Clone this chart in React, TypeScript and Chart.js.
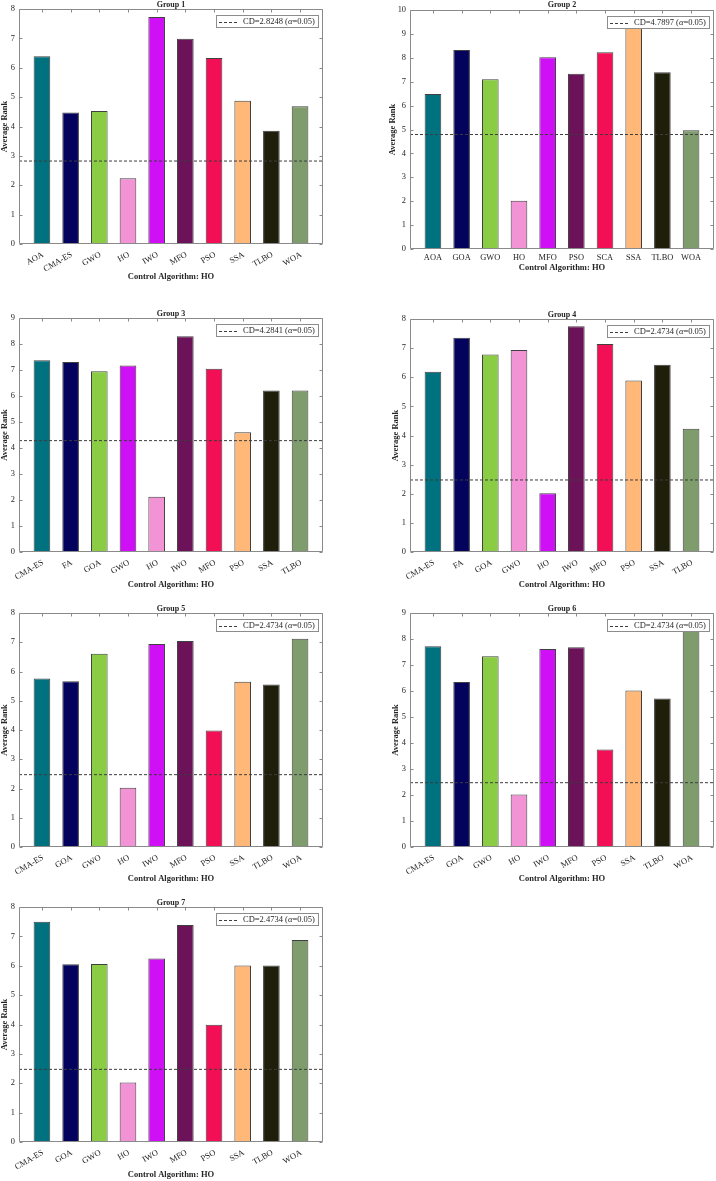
import React, { useEffect, useRef } from "react";
import { Chart, registerables } from "chart.js";

Chart.register(...registerables);

const SERIF = '"Liberation Serif", "Times New Roman", serif';

// ---------- colours ----------
const TEAL = "#00717F";
const NAVY = "#03035E";
const GREEN = "#8ACD44";
const PINK = "#F293D6";
const MAGENTA = "#CF10F6";
const PURPLE = "#6C1259";
const CRIMSON = "#F20F55";
const PEACH = "#FFB877";
const BLACKISH = "#1F1E0B";
const SAGE = "#7F9D6C";

const baseColors = [TEAL, NAVY, GREEN, PINK, MAGENTA, PURPLE, CRIMSON, PEACH, BLACKISH, SAGE];
const g3Colors = [TEAL, NAVY, GREEN, MAGENTA, PINK, PURPLE, CRIMSON, PEACH, BLACKISH, SAGE];

// ---------- data ----------
const g1Algorithms = ["AOA", "CMA-ES", "GWO", "HO", "IWO", "MFO", "PSO", "SSA", "TLBO", "WOA"];
const g1Ranks = [6.39, 4.48, 4.53, 2.24, 7.73, 6.99, 6.33, 4.88, 3.86, 4.69];
const g1CD = 2.8248;

const g2Algorithms = ["AOA", "GOA", "GWO", "HO", "MFO", "PSO", "SCA", "SSA", "TLBO", "WOA"];
const g2Ranks = [6.49, 8.33, 7.1, 2.02, 8.02, 7.33, 8.23, 9.35, 7.4, 4.97];
const g2CD = 4.7897;

const g3Algorithms = ["CMA-ES", "FA", "GOA", "GWO", "HO", "IWO", "MFO", "PSO", "SSA", "TLBO"];
const g3Ranks = [7.38, 7.31, 6.95, 7.17, 2.13, 8.3, 7.05, 4.61, 6.21, 6.21];
const g3CD = 4.2841;

const g4Algorithms = ["CMA-ES", "FA", "GOA", "GWO", "HO", "IWO", "MFO", "PSO", "SSA", "TLBO"];
const g4Ranks = [6.19, 7.36, 6.78, 6.94, 2.02, 7.75, 7.14, 5.89, 6.43, 4.23];
const g4CD = 2.4734;

const g5Algorithms = ["CMA-ES", "GOA", "GWO", "HO", "IWO", "MFO", "PSO", "SSA", "TLBO", "WOA"];
const g5Ranks = [5.76, 5.67, 6.61, 2.03, 6.94, 7.04, 3.98, 5.65, 5.56, 7.12];
const g5CD = 2.4734;

const g6Algorithms = ["CMA-ES", "GOA", "GWO", "HO", "IWO", "MFO", "PSO", "SSA", "TLBO", "WOA"];
const g6Ranks = [7.72, 6.35, 7.34, 2.02, 7.62, 7.68, 3.75, 6.02, 5.71, 8.45];
const g6CD = 2.4734;

const g7Algorithms = ["CMA-ES", "GOA", "GWO", "HO", "IWO", "MFO", "PSO", "SSA", "TLBO", "WOA"];
const g7Ranks = [7.5, 6.05, 6.06, 2.03, 6.25, 7.39, 3.99, 6.01, 6.01, 6.875];
const g7CD = 2.4734;

const yMaxes = [8, 10, 9, 8, 8, 9, 8];
const groupTitles = ["Group 1", "Group 2", "Group 3", "Group 4", "Group 5", "Group 6", "Group 7"];
const xAxisTitle = "Control Algorithm: HO";
const yAxisTitle = "Average Rank";
const ALPHA_LABEL = "0.05";

const X_MIN = 0.2;
const X_MAX = 10.8;

// ---------- layout (pixels) ----------
type Layout = {
  cx: number; cy: number; cw: number; ch: number;
  plotL: number; plotT: number; plotR: number; plotB: number;
  yTitleX: number; xTitleY: number; rot: number;
};

const layouts: Layout[] = [
  { cx: 0, cy: 0, cw: 345, ch: 290, plotL: 19, plotT: 9, plotR: 323, plotB: 244, yTitleX: 5, xTitleY: 277, rot: 30 },
  { cx: 358, cy: 0, cw: 358, ch: 290, plotL: 410, plotT: 10, plotR: 714, plotB: 249, yTitleX: 393, xTitleY: 267.5, rot: 0 },
  { cx: 0, cy: 309, cw: 345, ch: 290, plotL: 19, plotT: 317, plotR: 323, plotB: 552, yTitleX: 5, xTitleY: 585, rot: 30 },
  { cx: 358, cy: 310, cw: 358, ch: 290, plotL: 410, plotT: 318, plotR: 714, plotB: 552, yTitleX: 396, xTitleY: 585, rot: 30 },
  { cx: 0, cy: 604, cw: 345, ch: 290, plotL: 19, plotT: 613, plotR: 323, plotB: 847, yTitleX: 5, xTitleY: 879, rot: 30 },
  { cx: 358, cy: 604, cw: 358, ch: 290, plotL: 410, plotT: 613, plotR: 714, plotB: 847, yTitleX: 396, xTitleY: 879, rot: 30 },
  { cx: 0, cy: 898, cw: 345, ch: 283, plotL: 19, plotT: 907, plotR: 323, plotB: 1142, yTitleX: 5, xTitleY: 1174.5, rot: 30 },
];

type Group = { cats: string[]; ranks: number[]; cd: number; colors: string[] };
const groups: Group[] = [
  { cats: g1Algorithms, ranks: g1Ranks, cd: g1CD, colors: baseColors },
  { cats: g2Algorithms, ranks: g2Ranks, cd: g2CD, colors: baseColors },
  { cats: g3Algorithms, ranks: g3Ranks, cd: g3CD, colors: g3Colors },
  { cats: g4Algorithms, ranks: g4Ranks, cd: g4CD, colors: baseColors },
  { cats: g5Algorithms, ranks: g5Ranks, cd: g5CD, colors: baseColors },
  { cats: g6Algorithms, ranks: g6Ranks, cd: g6CD, colors: baseColors },
  { cats: g7Algorithms, ranks: g7Ranks, cd: g7CD, colors: baseColors },
];

const FRAME = "#8a8a8a";
const TEXT = "#262626";
const TICK_SIZE = 8.4;

const boxPlugin = {
  id: "matlabBox",
  afterDraw(chart: any, _args: any, opts: any) {
    const { ctx, chartArea: a, scales } = chart;
    const x = scales.x;
    const y = scales.y;
    ctx.save();
    ctx.strokeStyle = FRAME;
    ctx.lineWidth = 1;
    const L = Math.round(a.left) + 0.5;
    const T = Math.round(a.top) + 0.5;
    const R = Math.round(a.right) - 0.5;
    const B = Math.round(a.bottom) - 0.5;
    ctx.beginPath();
    ctx.rect(L, T, R - L, B - T);
    ctx.stroke();
    ctx.beginPath();
    x.ticks.forEach((t: any) => {
      const px = Math.round(x.getPixelForValue(t.value)) + 0.5;
      ctx.moveTo(px, T);
      ctx.lineTo(px, T + 3);
    });
    y.ticks.forEach((t: any) => {
      const py = Math.round(y.getPixelForValue(t.value)) + 0.5;
      ctx.moveTo(L, py);
      ctx.lineTo(L + 3, py);
      ctx.moveTo(R, py);
      ctx.lineTo(R - 3, py);
    });
    ctx.stroke();

    // rotated category labels
    const rot = Number(opts.rot) || 0;
    const cats = opts.cats as string[];
    if (rot) {
      ctx.fillStyle = TEXT;
      ctx.font = `${TICK_SIZE}px ${SERIF}`;
      ctx.textAlign = "right";
      ctx.textBaseline = "middle";
      x.ticks.forEach((t: any) => {
        const v = Math.round(t.value);
        const px = x.getPixelForValue(v);
        ctx.save();
        ctx.translate(px + 1, a.bottom + 10);
        ctx.rotate((-rot * Math.PI) / 180);
        ctx.fillText(cats[v - 1], 0, 0);
        ctx.restore();
      });
    }

    // legend box
    const cdText = opts.cdText as string;
    const fsz = 8.5;
    const pre = `CD=${cdText} (`;
    const post = `=${ALPHA_LABEL})`;
    ctx.font = `${fsz}px ${SERIF}`;
    const wPre = ctx.measureText(pre).width;
    const wPost = ctx.measureText(post).width;
    ctx.font = `italic ${fsz}px ${SERIF}`;
    const wA = ctx.measureText("α").width;
    const textW = wPre + wA + wPost;
    const boxW = 2.5 + 19 + 5 + textW + 4;
    const boxH = 12;
    const boxR = Math.round(a.right - 5) + 0.5;
    const boxT = Math.round(a.top + 5.5) + 0.5;
    const boxL = Math.round(boxR - boxW) + 0.5;
    ctx.fillStyle = "#ffffff";
    ctx.fillRect(boxL, boxT, boxR - boxL, boxH);
    ctx.strokeStyle = "#8c8c8c";
    ctx.strokeRect(boxL, boxT, boxR - boxL, boxH);
    const midY = boxT + boxH / 2;
    ctx.strokeStyle = "#3c3c3c";
    ctx.setLineDash([3, 2]);
    ctx.beginPath();
    ctx.moveTo(boxL + 2.5, Math.round(midY) + 0.5);
    ctx.lineTo(boxL + 21.5, Math.round(midY) + 0.5);
    ctx.stroke();
    ctx.setLineDash([]);
    ctx.fillStyle = TEXT;
    ctx.textBaseline = "middle";
    ctx.textAlign = "left";
    let tx = boxL + 26.5;
    ctx.font = `${fsz}px ${SERIF}`;
    ctx.fillText(pre, tx, midY + 0.5);
    tx += wPre;
    ctx.font = `italic ${fsz}px ${SERIF}`;
    ctx.fillText("α", tx, midY + 0.5);
    tx += wA;
    ctx.font = `${fsz}px ${SERIF}`;
    ctx.fillText(post, tx, midY + 0.5);
    ctx.restore();
  },
};

function Panel({ idx }: { idx: number }) {
  const ref = useRef<HTMLCanvasElement>(null);
  const s = layouts[idx];
  const g = groups[idx];
  useEffect(() => {
    if (!ref.current) return;
    const padL = s.yTitleX - 5 - s.cx;
    const yW = s.plotL - s.cx - padL;
    const titleH = s.plotT - s.cy;
    const xH = s.xTitleY + 5 - s.plotB;
    const padB = s.ch - (s.plotB - s.cy) - xH;
    const padR = s.cw - (s.plotR - s.cx);
    const cats = g.cats;
    const chart = new Chart(ref.current, {
      type: "bar",
      data: {
        datasets: [
          {
            type: "line",
            data: [
              { x: X_MIN, y: g.cd },
              { x: X_MAX, y: g.cd },
            ],
            borderColor: "#3c3c3c",
            borderWidth: 1,
            borderDash: [3, 2],
            pointRadius: 0,
            fill: false,
            order: 0,
          } as any,
          {
            type: "bar",
            data: g.ranks.map((r, i) => ({ x: i + 1, y: r })),
            backgroundColor: g.colors,
            borderColor: "#404040",
            borderWidth: 1,
            categoryPercentage: 1,
            barPercentage: 0.58,
            order: 1,
          } as any,
        ],
      },
      options: {
        animation: false,
        responsive: false,
        maintainAspectRatio: false,
        events: [],
        layout: { padding: { left: padL, right: padR, top: 0, bottom: padB } },
        plugins: {
          legend: { display: false },
          tooltip: { enabled: false },
          title: {
            display: true,
            text: groupTitles[idx],
            fullSize: false,
            color: TEXT,
            padding: 0,
            font: { family: SERIF, size: 8, weight: "bold", lineHeight: `${titleH}px` },
          },
          matlabBox: { cdText: g.cd.toFixed(4), rot: s.rot, cats },
        } as any,
        scales: {
          x: {
            type: "linear",
            min: X_MIN,
            max: X_MAX,
            offset: false,
            grid: { display: false, drawTicks: false },
            border: { display: false },
            afterBuildTicks: (scale: any) => {
              scale.ticks = cats.map((_, i) => ({ value: i + 1 }));
            },
            afterFit: (scale: any) => {
              scale.height = xH;
            },
            ticks: {
              display: s.rot === 0,
              autoSkip: false,
              minRotation: 0,
              maxRotation: 0,
              padding: 4,
              color: TEXT,
              font: { family: SERIF, size: TICK_SIZE },
              callback: (v: any) => cats[Math.round(Number(v)) - 1] ?? "",
            },
            title: {
              display: true,
              text: xAxisTitle,
              color: TEXT,
              padding: 0,
              font: { family: SERIF, size: 8.5, weight: "bold", lineHeight: "10px" },
            },
          },
          y: {
            type: "linear",
            min: 0,
            max: yMaxes[idx],
            grid: { display: false, drawTicks: false },
            border: { display: false },
            afterFit: (scale: any) => {
              scale.width = yW;
            },
            ticks: {
              stepSize: 1,
              padding: 4,
              color: TEXT,
              font: { family: SERIF, size: TICK_SIZE },
            },
            title: {
              display: true,
              text: yAxisTitle,
              color: TEXT,
              padding: 0,
              font: { family: SERIF, size: 8.5, weight: "bold", lineHeight: "10px" },
            },
          },
        },
      } as any,
      plugins: [boxPlugin as any],
    });
    return () => chart.destroy();
  }, []);
  return (
    <canvas
      ref={ref}
      width={s.cw}
      height={s.ch}
      style={{ position: "absolute", left: s.cx, top: s.cy, width: s.cw, height: s.ch }}
    />
  );
}

export default function App() {
  return (
    <div
      style={{
        position: "absolute",
        left: 0,
        top: 0,
        width: 716,
        height: 1181,
        background: "#ffffff",
        overflow: "hidden",
      }}
    >
      {layouts.map((_, i) => (
        <Panel key={i} idx={i} />
      ))}
    </div>
  );
}
